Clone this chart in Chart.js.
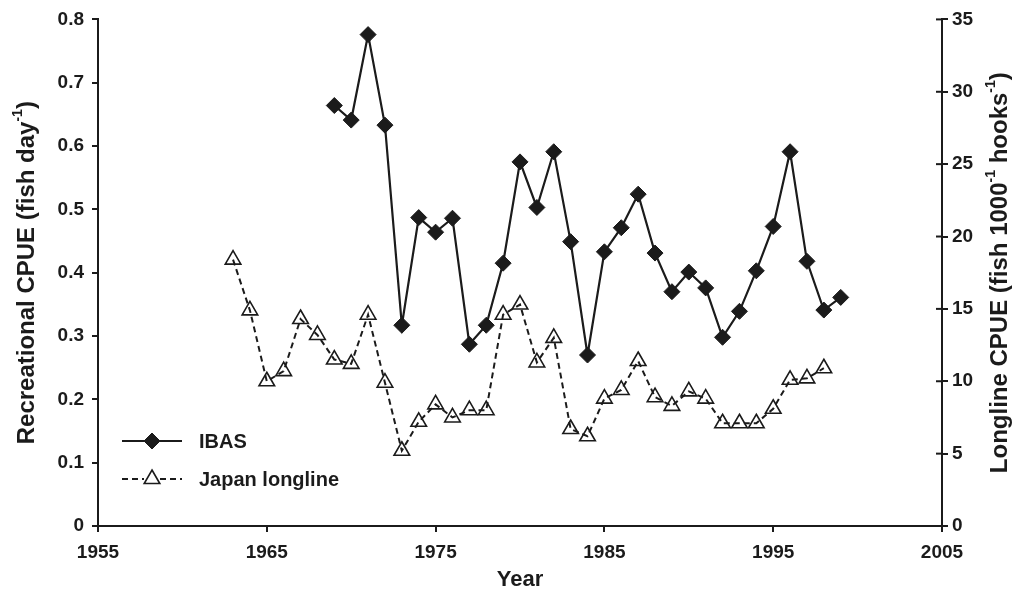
<!DOCTYPE html>
<html>
<head>
<meta charset="utf-8">
<script src="https://cdn.jsdelivr.net/npm/chart.js@4.4.1/dist/chart.umd.min.js"></script>
<style>
  html, body { margin: 0; padding: 0; background: #fff; }
  #wrap { width: 1021px; height: 598px; }
</style>
</head>
<body>
<div id="wrap"><canvas id="cpueChart" width="1021" height="598"></canvas></div>
<script>
// recreational catch rate (IBAS), fish per day
var ibasYears = [1969, 1970, 1971, 1972, 1973, 1974, 1975, 1976, 1977, 1978,
                 1979, 1980, 1981, 1982, 1983, 1984, 1985, 1986, 1987, 1988,
                 1989, 1990, 1991, 1992, 1993, 1994, 1995, 1996, 1997, 1998, 1999];
var ibasCpue = [0.664, 0.641, 0.776, 0.633, 0.317, 0.487, 0.464, 0.486, 0.287, 0.317,
                0.415, 0.575, 0.503, 0.591, 0.449, 0.270, 0.433, 0.471, 0.524, 0.431,
                0.370, 0.401, 0.376, 0.298, 0.339, 0.403, 0.473, 0.591, 0.418, 0.341, 0.361];

// Japanese longline catch rate, fish per 1000 hooks
var jpYears = [1963, 1964, 1965, 1966, 1967, 1968, 1969, 1970, 1971, 1972,
               1973, 1974, 1975, 1976, 1977, 1978, 1979, 1980, 1981, 1982,
               1983, 1984, 1985, 1986, 1987, 1988, 1989, 1990, 1991, 1992,
               1993, 1994, 1995, 1996, 1997, 1998];
var jpCpue = [18.4, 14.9, 10.0, 10.7, 14.3, 13.2, 11.5, 11.2, 14.6, 9.9,
              5.2, 7.2, 8.4, 7.5, 8.0, 8.0, 14.6, 15.3, 11.3, 13.0,
              6.7, 6.2, 8.8, 9.4, 11.4, 8.9, 8.3, 9.3, 8.8, 7.1,
              7.1, 7.1, 8.1, 10.1, 10.2, 10.9];

var xTicks = [1955, 1965, 1975, 1985, 1995, 2005];

var FONT = "'Liberation Sans', Arial, sans-serif";
var INK = '#1b1b1b';

function toPoints(xs, ys) {
  var out = [];
  for (var i = 0; i < xs.length; i++) {
    out.push({ x: xs[i], y: ys[i] });
  }
  return out;
}

// draws a string with superscript pieces, centered at the current origin
function drawParts(ctx, parts, size) {
  var supSize = Math.round(size * 0.6);
  var total = 0;
  parts.forEach(function (p) {
    ctx.font = 'bold ' + (p.sup ? supSize : size) + 'px ' + FONT;
    p.w = ctx.measureText(p.t).width;
    total += p.w;
  });
  var x = -total / 2;
  parts.forEach(function (p) {
    ctx.font = 'bold ' + (p.sup ? supSize : size) + 'px ' + FONT;
    ctx.fillText(p.t, x, p.sup ? -size * 0.38 : 0);
    x += p.w;
  });
}

var titlesPlugin = {
  id: 'axisTitles',
  afterDraw: function (chart) {
    var ctx = chart.ctx;
    var area = chart.chartArea;
    var midY = (area.top + area.bottom) / 2;
    ctx.save();
    ctx.fillStyle = INK;
    ctx.textBaseline = 'middle';
    ctx.textAlign = 'left';

    ctx.save();
    ctx.translate(27, midY);
    ctx.rotate(-Math.PI / 2);
    drawParts(ctx, [{ t: 'Recreational CPUE (fish day' }, { t: '-1', sup: true }, { t: ')' }], 24);
    ctx.restore();

    ctx.save();
    ctx.translate(1000, midY);
    ctx.rotate(-Math.PI / 2);
    drawParts(ctx, [{ t: 'Longline CPUE (fish 1000' }, { t: '-1', sup: true },
                    { t: ' hooks' }, { t: '-1', sup: true }, { t: ')' }], 24);
    ctx.restore();

    ctx.save();
    ctx.translate((area.left + area.right) / 2, 580);
    drawParts(ctx, [{ t: 'Year' }], 22);
    ctx.restore();

    ctx.restore();
  }
};

// right axis ticks run across the axis line
var crossTicksPlugin = {
  id: 'crossTicks',
  afterDraw: function (chart) {
    var s = chart.scales.y1;
    var ctx = chart.ctx;
    ctx.save();
    ctx.strokeStyle = INK;
    ctx.lineWidth = 2;
    s.ticks.forEach(function (t) {
      var py = s.getPixelForValue(t.value);
      ctx.beginPath();
      ctx.moveTo(s.left - 6, py);
      ctx.lineTo(s.left, py);
      ctx.stroke();
    });
    ctx.restore();
  }
};

// legend inside the plot, lower left
var legendPlugin = {
  id: 'innerLegend',
  afterDraw: function (chart) {
    var ctx = chart.ctx;
    var rows = [{ ds: 0, y: 441 }, { ds: 1, y: 479 }];
    ctx.save();
    rows.forEach(function (r) {
      var d = chart.data.datasets[r.ds];
      ctx.strokeStyle = d.borderColor;
      ctx.lineWidth = 2;
      ctx.setLineDash(d.borderDash || []);
      ctx.beginPath();
      if (d.borderDash) {
        ctx.moveTo(122, r.y); ctx.lineTo(144, r.y);
        ctx.moveTo(160, r.y); ctx.lineTo(182, r.y);
      } else {
        ctx.moveTo(122, r.y); ctx.lineTo(182, r.y);
      }
      ctx.stroke();
      ctx.setLineDash([]);
      ctx.fillStyle = d.pointBackgroundColor;
      ctx.strokeStyle = d.pointBorderColor;
      ctx.lineWidth = d.pointBorderWidth;
      Chart.helpers.drawPoint(ctx, {
        pointStyle: d.pointStyle, radius: d.pointRadius, borderWidth: d.pointBorderWidth, rotation: 0
      }, 152, r.y);
      ctx.fillStyle = INK;
      ctx.font = 'bold 20px ' + FONT;
      ctx.textBaseline = 'middle';
      ctx.textAlign = 'left';
      ctx.fillText(d.label, 199, r.y + 1);
    });
    ctx.restore();
  }
};

var tickFont = { family: FONT, size: 19, weight: 'bold' };

new Chart(document.getElementById('cpueChart'), {
  type: 'line',
  data: {
    datasets: [{
      label: 'IBAS',
      data: toPoints(ibasYears, ibasCpue),
      yAxisID: 'y',
      borderColor: INK,
      borderWidth: 2.2,
      pointStyle: 'rectRot',
      pointRadius: 8,
      pointBackgroundColor: INK,
      pointBorderColor: INK,
      pointBorderWidth: 1,
      tension: 0
    }, {
      label: 'Japan longline',
      data: toPoints(jpYears, jpCpue),
      yAxisID: 'y1',
      borderColor: INK,
      borderWidth: 2,
      borderDash: [6, 4],
      pointStyle: 'triangle',
      pointRadius: 9,
      pointBackgroundColor: 'rgba(255,255,255,0)',
      pointBorderColor: INK,
      pointBorderWidth: 1.6,
      tension: 0
    }]
  },
  options: {
    responsive: false,
    animation: false,
    layout: { padding: { top: 18, left: 0, right: 0, bottom: 0 } },
    plugins: {
      legend: { display: false },
      tooltip: { enabled: false }
    },
    scales: {
      x: {
        type: 'linear',
        min: 1955,
        max: 2005,
        afterBuildTicks: function (scale) {
          scale.ticks = xTicks.map(function (v) { return { value: v }; });
        },
        afterFit: function (scale) { scale.height = 72; },
        ticks: { font: tickFont, color: INK, padding: 9, maxRotation: 0,
                 callback: function (v) { return String(v); } },
        grid: { display: true, drawOnChartArea: false, drawTicks: true, tickLength: 6, color: INK, lineWidth: 2 },
        border: { display: true, color: INK, width: 2 }
      },
      y: {
        position: 'left',
        min: 0,
        max: 0.8,
        afterFit: function (scale) { scale.width = 98; },
        ticks: { stepSize: 0.1, font: tickFont, color: INK, padding: 8,
                 callback: function (v) { return v === 0 ? '0' : v.toFixed(1); } },
        grid: { display: true, drawOnChartArea: false, drawTicks: true, tickLength: 6, color: INK, lineWidth: 2 },
        border: { display: true, color: INK, width: 2 }
      },
      y1: {
        position: 'right',
        min: 0,
        max: 35,
        afterFit: function (scale) { scale.width = 79; },
        ticks: { stepSize: 5, font: tickFont, color: INK, padding: 4 },
        grid: { display: true, drawOnChartArea: false, drawTicks: true, tickLength: 6, color: INK, lineWidth: 2 },
        border: { display: true, color: INK, width: 2 }
      }
    }
  },
  plugins: [titlesPlugin, crossTicksPlugin, legendPlugin]
});
</script>
</body>
</html>
